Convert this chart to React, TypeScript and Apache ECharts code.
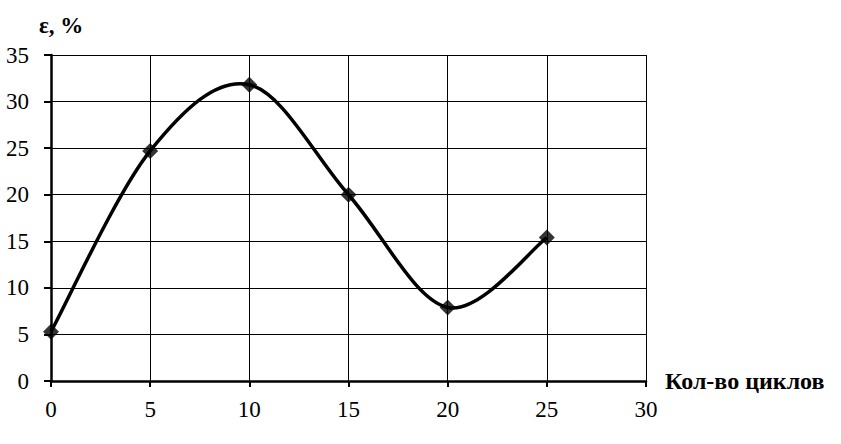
import React, { useEffect, useRef } from "react";
import * as echarts from "echarts";

const cycles = [0, 5, 10, 15, 20, 25];
const strain = [5.3, 24.7, 31.8, 20.0, 7.9, 15.4];
const xTicks = [0, 5, 10, 15, 20, 25, 30];
const yTicks = [0, 5, 10, 15, 20, 25, 30, 35];
const xName = "Кол-во циклов";
const yName = "ε, %";

const FONT = "Liberation Serif";

export default function App() {
  const ref = useRef<HTMLDivElement>(null);
  useEffect(() => {
    if (!ref.current) return;
    const chart = echarts.init(ref.current, undefined, { renderer: "svg" });
    const points = cycles.map((c, i) => [c, strain[i]]);
    chart.setOption({
      animation: false,
      backgroundColor: "#ffffff",
      grid: { left: 51, right: 195, top: 55, bottom: 63, containLabel: false },
      xAxis: {
        type: "value",
        min: xTicks[0],
        max: xTicks[xTicks.length - 1],
        interval: 5,
        name: xName,
        nameLocation: "end",
        nameGap: 19,
        nameTextStyle: { fontFamily: FONT, fontSize: 24, fontWeight: "bold", color: "#000", verticalAlign: "middle", padding: [0, 0, 2, 0] },
        axisLine: { show: true, onZero: false, lineStyle: { color: "#000", width: 2.5 } },
        axisTick: { show: true, length: 6, lineStyle: { color: "#000", width: 2 } },
        axisLabel: { fontFamily: FONT, fontSize: 23, color: "#000", margin: 17 },
        splitLine: { show: true, lineStyle: { color: "#000", width: 1 } },
      },
      yAxis: {
        type: "value",
        min: yTicks[0],
        max: yTicks[yTicks.length - 1],
        interval: 5,
        axisLine: { show: true, onZero: false, lineStyle: { color: "#000", width: 2.5 } },
        axisTick: { show: true, length: 7, lineStyle: { color: "#000", width: 2 } },
        axisLabel: { fontFamily: FONT, fontSize: 23, color: "#000", margin: 22 },
        splitLine: { show: true, lineStyle: { color: "#000", width: 1 } },
      },
      graphic: [
        {
          type: "text",
          left: 39,
          top: 14,
          style: { text: yName, fontFamily: FONT, fontSize: 23, fontWeight: "bold", fill: "#000" },
        },
      ],
      series: [
        {
          type: "custom",
          data: points,
          silent: true,
          z: 4,
          renderItem: (params: any, api: any) => {
            if (params.dataIndex !== 0) return null;
            const p = points.map((d) => api.coord(d));
            const n = p.length;
            let d = `M${p[0][0]},${p[0][1]}`;
            for (let i = 0; i < n - 1; i++) {
              const p0 = p[Math.max(i - 1, 0)];
              const p1 = p[i];
              const p2 = p[i + 1];
              const p3 = p[Math.min(i + 2, n - 1)];
              const c1x = p1[0] + (p2[0] - p0[0]) / 6;
              const c1y = p1[1] + (p2[1] - p0[1]) / 6;
              const c2x = p2[0] - (p3[0] - p1[0]) / 6;
              const c2y = p2[1] - (p3[1] - p1[1]) / 6;
              d += ` C${c1x},${c1y} ${c2x},${c2y} ${p2[0]},${p2[1]}`;
            }
            return {
              type: "path",
              shape: { pathData: d },
              style: { stroke: "#000", lineWidth: 3.5, fill: null },
            };
          },
        },
        {
          type: "scatter",
          data: points,
          symbol: "diamond",
          symbolSize: 16,
          itemStyle: { color: "#000" },
          z: 5,
        },
      ],
    });
    return () => chart.dispose();
  }, []);
  return <div ref={ref} style={{ width: 841, height: 444, position: "absolute", left: 0, top: 0 }} />;
}
